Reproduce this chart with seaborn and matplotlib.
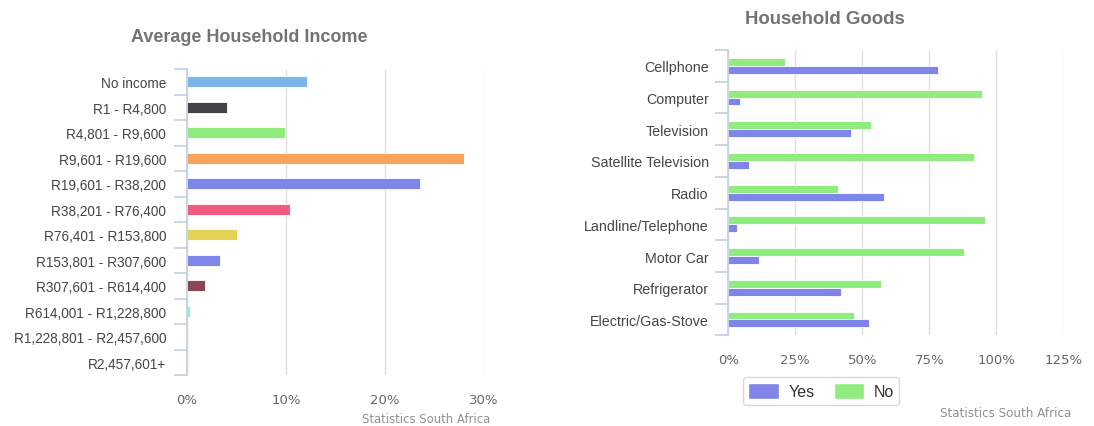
import matplotlib
matplotlib.use("Agg")
import matplotlib.pyplot as plt
import seaborn as sns
import pandas as pd
from matplotlib.patches import Patch
from matplotlib.ticker import FuncFormatter

# Income bands and share of households (%)
income_bands = [
    "No income", "R1 - R4,800", "R4,801 - R9,600", "R9,601 - R19,600",
    "R19,601 - R38,200", "R38,201 - R76,400", "R76,401 - R153,800",
    "R153,801 - R307,600", "R307,601 - R614,400", "R614,001 - R1,228,800",
    "R1,228,801 - R2,457,600", "R2,457,601+",
]
income_share = [12.1, 4.0, 9.9, 28.0, 23.5, 10.4, 5.1, 3.3, 1.8, 0.3, 0.0, 0.0]
income_ticks = [0, 10, 20, 30]

# Household goods ownership (%)
goods = [
    "Cellphone", "Computer", "Television", "Satellite Television", "Radio",
    "Landline/Telephone", "Motor Car", "Refrigerator", "Electric/Gas-Stove",
]
goods_yes = [78.4, 4.4, 45.9, 7.7, 58.0, 3.4, 11.4, 42.2, 52.4]
goods_no = [21.0, 94.8, 53.3, 91.7, 41.1, 95.8, 87.9, 57.0, 47.0]
goods_ticks = [0, 25, 50, 75, 100, 125]

palette = ["#7cb5ec", "#434348", "#90ed7d", "#f7a35c", "#8085e9", "#f15c80",
           "#e4d354", "#8085e8", "#8d4653", "#91e8e1", "#7cb5ec", "#434348"]
yes_color = "#8085e9"
no_color = "#90ed7d"
axis_color = "#c0d0e0"
grid_color = "#dedede"
title_color = "#737373"

sns.set_theme(style="white")
plt.rcParams["font.family"] = ["Liberation Sans", "DejaVu Sans"]

fig = plt.figure(figsize=(10.94, 4.27), dpi=100)
ax1 = fig.add_axes([187 / 1094, 1 - 376 / 427, (484 - 187) / 1094, (376 - 70) / 427])
ax2 = fig.add_axes([728.3 / 1094, 1 - 336.3 / 427, (1063.3 - 728.3) / 1094, (336.3 - 51) / 427])

pct = FuncFormatter(lambda v, _: f"{v:.0f}%")


def style_axis(ax, ticks):
    ax.set_xlim(ticks[0], ticks[-1])
    ax.set_xticks(ticks)
    ax.xaxis.set_major_formatter(pct)
    ax.grid(axis="x", color=grid_color, linewidth=1)
    ax.set_axisbelow(True)
    for s in ["top", "right", "bottom"]:
        ax.spines[s].set_visible(False)
    ax.spines["left"].set_color(axis_color)
    ax.spines["left"].set_linewidth(1.2)
    ax.tick_params(axis="x", length=0, pad=13, labelsize=9.5, labelcolor="#666666")
    for lab in ax.get_xticklabels():
        lab.set_family("DejaVu Sans")
    ax.set_xlabel("")
    ax.set_ylabel("")


def category_boundaries(ax, n, length, pad):
    # tick marks drawn between categories, separating the bands
    ax.set_yticks([i - 0.5 for i in range(n + 1)], minor=True)
    ax.tick_params(axis="y", which="minor", length=length, width=1.2, color=axis_color, left=True)
    ax.tick_params(axis="y", which="major", length=0, pad=pad)


# Left: Average Household Income
df_inc = pd.DataFrame({"band": income_bands, "share": income_share})
sns.barplot(data=df_inc, x="share", y="band", hue="band", palette=palette,
            legend=False, width=0.42, ax=ax1, edgecolor="white", linewidth=0.6,
            saturation=1)
style_axis(ax1, income_ticks)
category_boundaries(ax1, len(income_bands), 9.4, 15)
ax1.tick_params(axis="y", labelsize=9.8, labelcolor="#454545")
ax1.set_ylim(len(income_bands) - 0.5, -0.5)
fig.text(249 / 1094, 1 - 38 / 427, "Average Household Income", ha="center",
         va="center", fontsize=13, fontweight="bold", color=title_color)
fig.text(426 / 1094, 1 - 420 / 427, "Statistics South Africa", ha="center",
         va="center", fontsize=8.4, color="#909090", family="DejaVu Sans")

# Right: Household Goods
df_goods = pd.DataFrame({
    "item": goods * 2,
    "share": goods_no + goods_yes,
    "answer": ["No"] * len(goods) + ["Yes"] * len(goods),
})
sns.barplot(data=df_goods, x="share", y="item", hue="answer",
            hue_order=["No", "Yes"], palette={"Yes": yes_color, "No": no_color},
            width=0.5, ax=ax2, edgecolor="white", linewidth=0.6, saturation=1)
style_axis(ax2, goods_ticks)
category_boundaries(ax2, len(goods), 9.4, 14)
ax2.tick_params(axis="y", labelsize=10.3, labelcolor="#454545")
ax2.set_ylim(len(goods) - 0.5, -0.5)
ax2.get_legend().remove()
fig.text(825 / 1094, 1 - 19 / 427, "Household Goods", ha="center",
         va="center", fontsize=13.4, fontweight="bold", color=title_color)

handles = [Patch(facecolor=yes_color, edgecolor="white"),
           Patch(facecolor=no_color, edgecolor="white")]
leg = fig.legend(handles, ["Yes", "No"], loc="center",
                 bbox_to_anchor=(821 / 1094, 1 - 392 / 427), ncol=2,
                 frameon=True, fontsize=11.5, handlelength=1.9, handleheight=1.2,
                 columnspacing=1.2, handletextpad=0.6, borderpad=0.35,
                 fancybox=True)
leg.get_frame().set_edgecolor("#d0d0d0")
leg.get_frame().set_linewidth(1)
for t in leg.get_texts():
    t.set_color("#333333")
fig.text(1006 / 1094, 1 - 414 / 427, "Statistics South Africa", ha="center",
         va="center", fontsize=8.6, color="#909090", family="DejaVu Sans")

fig.savefig("out.png", dpi=100, facecolor="white")
